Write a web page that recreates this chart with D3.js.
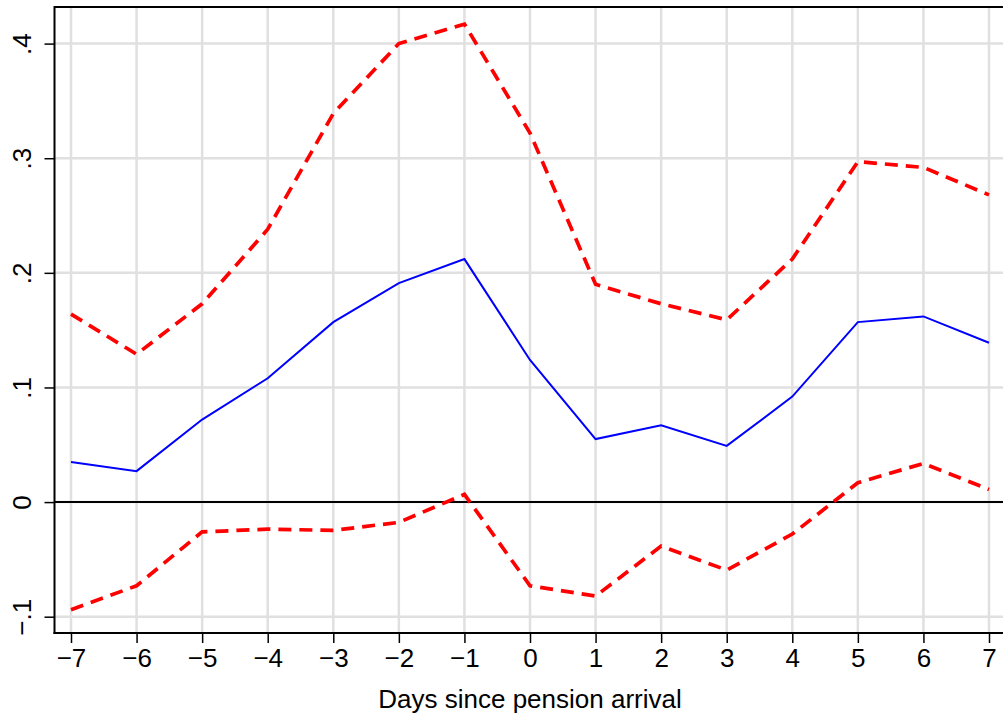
<!DOCTYPE html>
<html>
<head>
<meta charset="utf-8">
<script src="https://cdn.jsdelivr.net/npm/d3@7"></script>
<style>
html,body{margin:0;padding:0;background:#fff;}
svg{display:block;}
text{font-family:"Liberation Sans",Arial,Helvetica,sans-serif;fill:#000;}
</style>
</head>
<body>
<svg id="chart" width="1003" height="719"></svg>
<script>
const days = [-7,-6,-5,-4,-3,-2,-1,0,1,2,3,4,5,6,7];
const estimate = [0.035,0.027,0.072,0.108,0.157,0.191,0.212,0.124,0.055,0.067,0.049,0.092,0.157,0.162,0.139];
const upperCI = [0.164,0.129,0.173,0.238,0.339,0.400,0.417,0.322,0.190,0.173,0.159,0.212,0.297,0.292,0.268];
const lowerCI = [-0.094,-0.073,-0.026,-0.0236,-0.0247,-0.0177,0.0067,-0.073,-0.082,-0.0384,-0.0593,-0.0279,0.0169,0.0337,0.011];
const yTicks = [-0.1,0,0.1,0.2,0.3,0.4];
const yTickLabels = ["-.1","0",".1",".2",".3",".4"];
const xLabel = "Days since pension arrival";

(function(){
const svg = d3.select("#chart");
const pL = 54.5, pT = 7, pB = 633, pR = 1010;
const FS = 26;

const x = d3.scaleLinear().domain([-7,7]).range([71,989]);
const y = d3.scaleLinear().domain([-0.1,0.4]).range([616.7,43.6]);

// gridlines
const g = svg.append("g");
g.selectAll("line.hg").data(yTicks).join("line").attr("class","hg")
  .attr("x1",pL).attr("x2",pR)
  .attr("y1",d=>y(d)).attr("y2",d=>y(d))
  .attr("stroke","#e0e0e0").attr("stroke-width",2.5);
g.selectAll("line.vg").data(days).join("line").attr("class","vg")
  .attr("x1",d=>x(d)).attr("x2",d=>x(d))
  .attr("y1",pT).attr("y2",pB)
  .attr("stroke","#e0e0e0").attr("stroke-width",2.5);

// frame top
svg.append("line").attr("x1",pL).attr("x2",pR).attr("y1",pT).attr("y2",pT)
  .attr("stroke","#000").attr("stroke-width",2);

// zero line
svg.append("line").attr("x1",pL).attr("x2",pR).attr("y1",y(0)).attr("y2",y(0))
  .attr("stroke","#000").attr("stroke-width",2);

const line = d3.line().x((d,i)=>x(days[i])).y(d=>y(d));

svg.append("path").datum(upperCI).attr("d",line)
  .attr("fill","none").attr("stroke","#ff0000").attr("stroke-width",3.7)
  .attr("stroke-dasharray","13,8").attr("stroke-linejoin","miter");
svg.append("path").datum(lowerCI).attr("d",line)
  .attr("fill","none").attr("stroke","#ff0000").attr("stroke-width",3.7)
  .attr("stroke-dasharray","13,8").attr("stroke-linejoin","miter");
svg.append("path").datum(estimate).attr("d",line)
  .attr("fill","none").attr("stroke","#0000ff").attr("stroke-width",2);

// axes
const xAxis = d3.axisBottom(x).tickValues(days).tickSize(10).tickPadding(6)
  .tickFormat(d=> d<0 ? "\u2212"+Math.abs(d) : String(d));
const xg = svg.append("g").attr("transform",`translate(0,${pB})`).call(xAxis);
xg.select(".domain").remove();
xg.selectAll(".tick line").attr("stroke","#000").attr("stroke-width",1.5);
xg.selectAll(".tick text").attr("font-size",FS).attr("fill","#000")
  .attr("font-family","'Liberation Sans',Arial,sans-serif");
svg.append("line").attr("x1",pL-1).attr("x2",pR).attr("y1",pB).attr("y2",pB)
  .attr("stroke","#000").attr("stroke-width",2);

const yAxis = d3.axisLeft(y).tickValues(yTicks).tickSize(10)
  .tickFormat((d,i)=>yTickLabels[i]);
const yg = svg.append("g").attr("transform",`translate(${pL},0)`).call(yAxis);
yg.select(".domain").remove();
yg.selectAll(".tick line").attr("stroke","#000").attr("stroke-width",1.5);
yg.selectAll(".tick text").remove();
yg.selectAll(".tick").append("text")
  .attr("transform","translate(-33,0) rotate(-90)")
  .attr("text-anchor","middle").attr("dy","0.35em")
  .attr("font-size",FS).attr("fill","#000")
  .attr("font-family","'Liberation Sans',Arial,sans-serif")
  .text((d,i)=>yTickLabels[i].replace("-","\u2212"));
svg.append("line").attr("x1",pL).attr("x2",pL).attr("y1",pT-1).attr("y2",pB+1)
  .attr("stroke","#000").attr("stroke-width",2);

svg.append("text").attr("x",530).attr("y",708).attr("text-anchor","middle")
  .attr("font-size",FS).text(xLabel);
})();
</script>
</body>
</html>
